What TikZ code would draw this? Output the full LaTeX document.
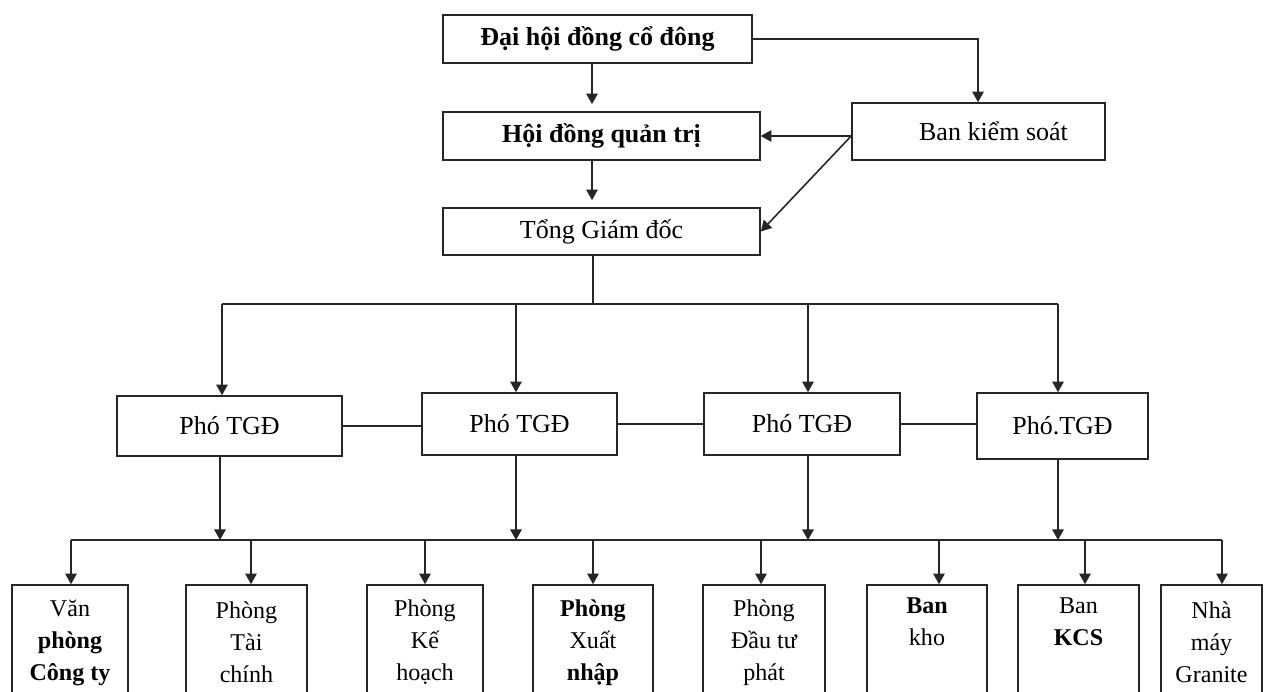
\documentclass[tikz,border=0pt]{standalone}
\usepackage{fontspec}
\setmainfont{Liberation Serif}
\usetikzlibrary{arrows.meta}
\begin{document}
\begin{tikzpicture}[x=0.02cm,y=-0.02cm,
  box/.style={draw=black!85, line width=0.9pt, fill=white, inner sep=0pt,
    font=\fontsize{14.8}{18}\selectfont},
  sub/.style={box, align=center, minimum height=115*0.02cm,
    font=\fontsize{13.7}{18.2}\selectfont},
  arr/.style={-{Triangle[width=6.5pt,length=6pt]}, line width=0.9pt, draw=black!85},
  ln/.style={line width=0.9pt, draw=black!85}]
\fill[white] (0,0) rectangle (1265,692);
\clip (0,0) rectangle (1265,692);
\useasboundingbox (0,0) rectangle (1265,692);
% top level
\node[box, minimum width=309*0.02cm, minimum height=48*0.02cm] (dh) at (597.5,39) {\bfseries Đại hội đồng cổ đông};
\node[box, minimum width=317*0.02cm, minimum height=48*0.02cm] (hd) at (601.5,136) {\bfseries Hội đồng quản trị};
\node[box, minimum width=317*0.02cm, minimum height=47*0.02cm] (tg) at (601.5,231.5) {Tổng Giám đốc};
\node[box, minimum width=253*0.02cm, minimum height=57*0.02cm] (bks) at (978.5,131.5) {\hspace*{0.6cm}Ban kiểm soát};
% deputies
\node[box, minimum width=225*0.02cm, minimum height=60*0.02cm] (p1) at (229.5,426) {Phó TGĐ};
\node[box, minimum width=195*0.02cm, minimum height=62*0.02cm] (p2) at (519.5,424) {Phó TGĐ};
\node[box, minimum width=196*0.02cm, minimum height=62*0.02cm] (p3) at (802,424) {Phó TGĐ};
\node[box, minimum width=171*0.02cm, minimum height=66*0.02cm] (p4) at (1062.5,426) {Phó.TGĐ};
% departments
\node[sub, minimum width=116*0.02cm] (a) at (70,642.5) {Văn\\\textbf{phòng}\\\textbf{Công ty}};
\node[sub, minimum width=121*0.02cm] (b) at (246.5,642.5) {Phòng\\Tài\\chính};
\node[sub, minimum width=116*0.02cm] (c) at (425,642.5) {Phòng\\Kế\\hoạch};
\node[sub, minimum width=120*0.02cm] (d) at (593,642.5) {\textbf{Phòng}\\Xuất\\\textbf{nhập}};
\node[sub, minimum width=122*0.02cm] (e) at (764,642.5) {Phòng\\Đầu tư\\phát};
\node[sub, minimum width=120*0.02cm] (f) at (927,642.5) {\textbf{Ban}\\kho\\\strut};
\node[sub, minimum width=121*0.02cm] (g) at (1078.5,642.5) {Ban\\\textbf{KCS}\\\strut};
\node[sub, minimum width=101*0.02cm] (h) at (1211.5,642.5) {Nhà\\máy\\Granite};
% top connectors
\draw[arr, shorten >=4pt] (dh.south -| 592,0) -- (hd.north -| 592,0);
\draw[arr, shorten >=4pt] (hd.south -| 592,0) -- (tg.north -| 592,0);
\draw[arr] (dh.east) -| (bks.north -| 978,0);
\coordinate (bk) at (bks.west |- hd.east);
\draw[arr] (bk) -- (hd.east);
\draw[arr] (bk) -- (tg.east);
% level 2 bus
\coordinate (t0) at (593,304);
\coordinate (t1) at (222,304);
\coordinate (t2) at (516,304);
\coordinate (t3) at (808,304);
\coordinate (t4) at (1058,304);
\draw[ln] (tg.south -| t0) -- (t0);
\draw[ln] (t1) -- (t4);
\draw[arr] (t1) -- (t1 |- p1.north);
\draw[arr] (t2) -- (t2 |- p2.north);
\draw[arr] (t3) -- (t3 |- p3.north);
\draw[arr] (t4) -- (t4 |- p4.north);
\draw[ln] (p1.east) -- (p1.east -| p2.west);
\draw[ln] (p2.east) -- (p2.east -| p3.west);
\draw[ln] (p3.east) -- (p3.east -| p4.west);
% level 3 bus
\coordinate (j1) at (220,540);
\coordinate (j2) at (516,540);
\coordinate (j3) at (808,540);
\coordinate (j4) at (1058,540);
\draw[arr] (j1 |- p1.south) -- (j1);
\draw[arr] (j2 |- p2.south) -- (j2);
\draw[arr] (j3 |- p3.south) -- (j3);
\draw[arr] (j4 |- p4.south) -- (j4);
\coordinate (ba) at (71,540);
\coordinate (bb) at (251,540);
\coordinate (bc) at (425,540);
\coordinate (bd) at (593,540);
\coordinate (be) at (761,540);
\coordinate (bf) at (939,540);
\coordinate (bg) at (1085,540);
\coordinate (bh) at (1222,540);
\draw[ln] (ba) -- (bh);
\draw[arr] (ba) -- (ba |- a.north);
\draw[arr] (bb) -- (bb |- b.north);
\draw[arr] (bc) -- (bc |- c.north);
\draw[arr] (bd) -- (bd |- d.north);
\draw[arr] (be) -- (be |- e.north);
\draw[arr] (bf) -- (bf |- f.north);
\draw[arr] (bg) -- (bg |- g.north);
\draw[arr] (bh) -- (bh |- h.north);
\end{tikzpicture}
\end{document}
